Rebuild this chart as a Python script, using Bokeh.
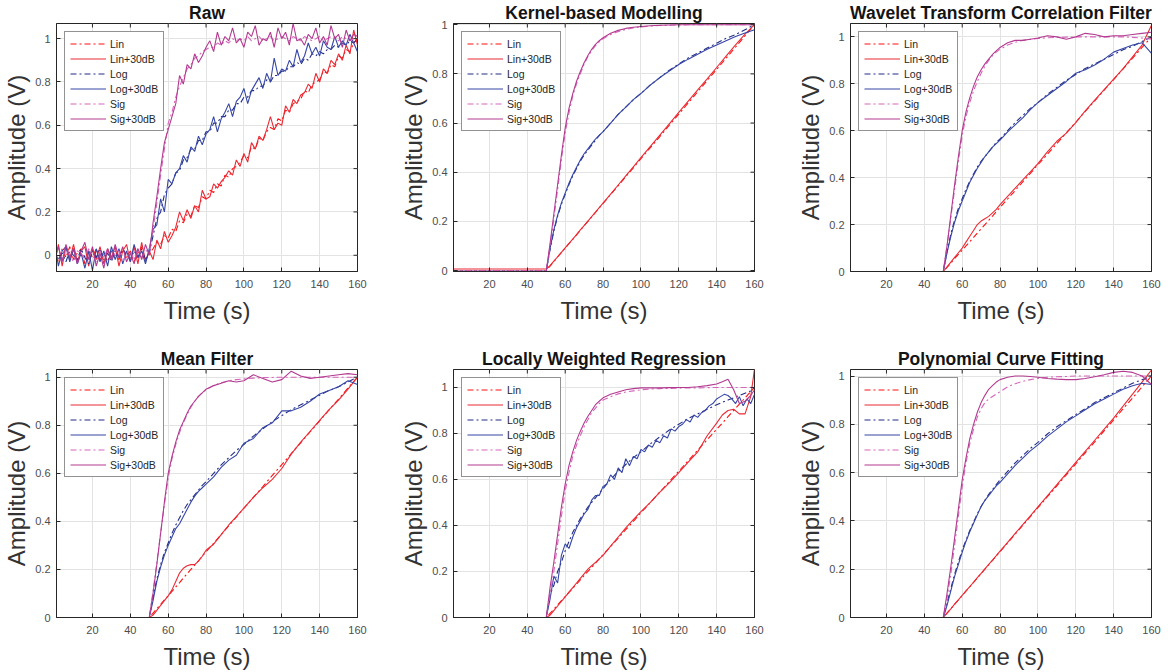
import math
from bokeh.plotting import figure
from bokeh.layouts import column, row
from bokeh.models import Range1d, FixedTicker, NumeralTickFormatter
from bokeh.embed import file_html
from bokeh.resources import INLINE

FONT = "Liberation Sans"

# ---------------- data ----------------
# Raw panel: 2 s sampling
t_raw = list(range(0, 161, 2))

raw_lin = [0.02, -0.03, 0.03, -0.01, 0.04, -0.02, 0.01, 0.03, -0.04, 0.02, -0.01, 0.03, -0.02,
           0.01, -0.03, 0.02, 0.0, -0.02, 0.03, -0.01, 0.02, -0.03, 0.01, 0.04, -0.02, 0.01] + \
          [0.03, 0.06, 0.05, 0.09, 0.08, 0.12, 0.11, 0.16, 0.15, 0.19,
           0.18, 0.23, 0.22, 0.27, 0.26, 0.30, 0.29, 0.33, 0.32, 0.37,
           0.36, 0.40, 0.41, 0.43, 0.46, 0.45, 0.50, 0.49, 0.54, 0.53,
           0.57, 0.59, 0.58, 0.63, 0.62, 0.67, 0.66, 0.70, 0.71, 0.72,
           0.76, 0.75, 0.79, 0.80, 0.81, 0.85, 0.84, 0.88, 0.87, 0.92,
           0.91, 0.95, 0.94, 0.98, 1.0]
raw_lin_n = [-0.04, 0.05, -0.05, 0.04, -0.02, 0.05, -0.03, 0.02, 0.04, -0.05, 0.03, -0.02, 0.04,
             -0.04, 0.03, -0.01, 0.04, -0.05, 0.02, 0.05, -0.03, 0.04, -0.04, 0.06, -0.03, 0.02] + \
            [-0.02, 0.07, 0.03, 0.11, 0.06, 0.09, 0.13, 0.20, 0.16, 0.21,
             0.17, 0.23, 0.20, 0.30, 0.26, 0.27, 0.33, 0.31, 0.34, 0.36,
             0.39, 0.37, 0.44, 0.41, 0.47, 0.43, 0.52, 0.49, 0.55, 0.53,
             0.58, 0.64, 0.58, 0.61, 0.60, 0.69, 0.66, 0.72, 0.70, 0.74,
             0.75, 0.79, 0.77, 0.84, 0.80, 0.86, 0.84, 0.90, 0.88, 0.93,
             0.90, 0.97, 0.93, 1.04, 0.97]
raw_log = [0.03, -0.02, 0.01, -0.03, 0.02, 0.0, -0.02, 0.03, -0.01, -0.04, 0.02, -0.01, 0.03,
           -0.02, 0.01, -0.03, 0.02, -0.01, 0.03, 0.0, -0.02, 0.02, -0.01, 0.03, -0.02, 0.01] + \
          [0.09, 0.17, 0.20, 0.28, 0.31, 0.33, 0.38, 0.39, 0.44, 0.45,
           0.49, 0.49, 0.53, 0.53, 0.57, 0.57, 0.61, 0.61, 0.64, 0.64,
           0.67, 0.67, 0.70, 0.70, 0.73, 0.73, 0.76, 0.76, 0.78, 0.78,
           0.81, 0.80, 0.83, 0.83, 0.85, 0.85, 0.87, 0.87, 0.89, 0.88,
           0.91, 0.90, 0.93, 0.92, 0.94, 0.93, 0.95, 0.95, 0.97, 0.96,
           0.98, 0.97, 0.99, 0.98, 1.0]
raw_log_n = [0.06, -0.05, 0.02, 0.04, -0.03, 0.03, -0.04, 0.01, -0.06, 0.02, -0.07, 0.03, -0.03,
             0.02, -0.05, 0.04, -0.02, 0.03, -0.04, 0.02, -0.03, 0.05, -0.01, 0.02, -0.04, 0.03] + \
            [0.12, 0.14, 0.26, 0.20, 0.35, 0.33, 0.38, 0.40, 0.46, 0.43,
             0.50, 0.48, 0.55, 0.51, 0.56, 0.58, 0.64, 0.57, 0.63, 0.66,
             0.70, 0.64, 0.71, 0.73, 0.77, 0.70, 0.76, 0.79, 0.82, 0.77,
             0.84, 0.80, 0.91, 0.83, 0.86, 0.85, 0.90, 0.87, 0.95, 0.89,
             0.92, 0.98, 0.93, 0.96, 0.92, 0.99, 0.96, 0.95, 1.01, 0.96,
             0.99, 0.97, 1.02, 0.98, 0.94]
raw_sig = [0.01, 0.03, -0.02, 0.02, 0.0, -0.03, 0.02, 0.01, -0.02, 0.03, 0.0, -0.03, 0.02,
           -0.01, 0.03, -0.02, 0.01, 0.02, -0.03, 0.01, 0.02, -0.02, 0.03, -0.01, 0.02, 0.02] + \
          [0.12, 0.24, 0.37, 0.49, 0.61, 0.66, 0.73, 0.78, 0.82, 0.86,
           0.88, 0.91, 0.92, 0.94, 0.95, 0.96, 0.96, 0.98, 0.97, 0.99,
           0.98, 1.0, 0.99, 1.0, 0.99, 1.01, 0.99, 1.0, 1.01, 0.99,
           1.0, 1.01, 0.99, 1.0, 1.01, 1.0, 0.99, 1.01, 1.0, 0.99,
           1.01, 1.0, 0.99, 1.0, 1.01, 0.99, 1.0, 1.01, 1.0, 0.99,
           1.01, 1.0, 0.99, 1.0, 1.0]
raw_sig_n = [-0.02, 0.04, -0.03, 0.05, -0.01, 0.03, -0.04, 0.02, 0.06, -0.02, 0.04, -0.05, 0.01,
             -0.06, 0.03, -0.02, 0.05, -0.01, 0.04, -0.03, 0.01, -0.04, 0.03, -0.02, 0.05, 0.0] + \
            [0.15, 0.27, 0.40, 0.52, 0.58, 0.64, 0.70, 0.83, 0.79, 0.88,
             0.86, 0.93, 0.89, 0.92, 0.96, 0.99, 0.94, 1.03, 0.97, 1.01,
             0.99, 1.05, 0.98, 1.0, 0.96, 1.03, 1.01, 1.06, 0.97, 1.0,
             0.99, 1.03, 0.96, 1.05, 1.0, 1.03, 0.97, 1.07, 0.99, 1.0,
             0.97, 1.02, 1.0, 1.05, 0.98, 1.01, 0.97, 1.06, 1.0, 1.02,
             0.96, 1.04, 0.99, 1.02, 1.01]

# Smooth panels: common sampling
t_s = [0, 50, 52, 54, 56, 58, 60, 62, 64, 66, 68, 70, 72, 74, 76, 78, 80, 84, 88, 92, 96,
       100, 105, 110, 115, 120, 125, 130, 135, 140, 145, 150, 155, 160]

lin_ref = [0, 0, 0.018, 0.036, 0.055, 0.073, 0.091, 0.109, 0.127, 0.145, 0.164, 0.182, 0.2, 0.218,
           0.236, 0.255, 0.273, 0.309, 0.345, 0.382, 0.418, 0.455, 0.5, 0.545, 0.591, 0.636,
           0.682, 0.727, 0.773, 0.818, 0.864, 0.909, 0.955, 1.0]
log_ref = [0, 0, 0.085, 0.16, 0.22, 0.27, 0.31, 0.35, 0.385, 0.415, 0.445, 0.47, 0.49, 0.51, 0.53,
           0.55, 0.565, 0.60, 0.635, 0.665, 0.695, 0.72, 0.755, 0.785, 0.815, 0.84, 0.865, 0.885,
           0.905, 0.925, 0.945, 0.96, 0.98, 1.0]
sig_ref = [0, 0, 0.11, 0.23, 0.35, 0.47, 0.58, 0.66, 0.72, 0.77, 0.81, 0.845, 0.875, 0.9, 0.92,
           0.935, 0.947, 0.965, 0.977, 0.985, 0.99, 0.993, 0.996, 0.998, 0.999, 1.0, 1.0, 1.0,
           1.0, 1.0, 1.0, 1.0, 1.0, 1.0]

# Kernel-based Modelling
ker_lin_n = [0.006, 0.006, 0.02, 0.038, 0.056, 0.074, 0.092, 0.11, 0.128, 0.146, 0.165, 0.183,
             0.201, 0.219, 0.238, 0.256, 0.274, 0.311, 0.348, 0.385, 0.422, 0.459, 0.505, 0.551,
             0.597, 0.643, 0.689, 0.735, 0.78, 0.826, 0.872, 0.918, 0.962, 1.0]
ker_log_n = [-0.003, -0.003, 0.09, 0.165, 0.225, 0.275, 0.315, 0.355, 0.39, 0.42, 0.45, 0.475,
             0.495, 0.515, 0.535, 0.55, 0.565, 0.6, 0.635, 0.665, 0.695, 0.72, 0.755, 0.785,
             0.812, 0.838, 0.86, 0.88, 0.9, 0.918, 0.935, 0.952, 0.966, 0.98]
ker_sig = [0, 0, 0.1, 0.21, 0.33, 0.45, 0.56, 0.64, 0.71, 0.76, 0.8, 0.84, 0.87, 0.895, 0.915,
           0.93, 0.943, 0.96, 0.972, 0.981, 0.987, 0.991, 0.995, 0.997, 0.998, 0.999, 1.0, 1.0,
           1.0, 1.0, 1.0, 1.0, 1.0, 1.0]
ker_sig_n = [-0.003, -0.003, 0.11, 0.23, 0.35, 0.47, 0.58, 0.66, 0.72, 0.77, 0.81, 0.845, 0.875,
             0.9, 0.92, 0.935, 0.947, 0.965, 0.977, 0.985, 0.99, 0.993, 0.996, 0.998, 0.999, 1.0,
             1.0, 1.0, 1.0, 1.0, 1.0, 1.0, 1.0, 1.0]

# Wavelet Transform Correlation Filter
wav_lin_n = [0, 0, 0.02, 0.04, 0.06, 0.08, 0.1, 0.125, 0.15, 0.175, 0.2, 0.215, 0.225, 0.235,
             0.25, 0.265, 0.285, 0.32, 0.355, 0.39, 0.425, 0.46, 0.51, 0.555, 0.59, 0.635, 0.685,
             0.73, 0.775, 0.82, 0.865, 0.915, 0.965, 1.05]
wav_log_n = [0, 0, 0.08, 0.15, 0.21, 0.26, 0.3, 0.34, 0.38, 0.41, 0.44, 0.465, 0.49, 0.51, 0.53,
             0.545, 0.56, 0.595, 0.625, 0.655, 0.69, 0.72, 0.75, 0.78, 0.81, 0.845, 0.86, 0.88,
             0.905, 0.935, 0.95, 0.965, 0.975, 0.93]
wav_sig = [0, 0, 0.11, 0.23, 0.35, 0.47, 0.58, 0.66, 0.72, 0.77, 0.81, 0.845, 0.875, 0.9, 0.92,
           0.935, 0.947, 0.965, 0.977, 0.985, 0.99, 0.993, 0.996, 0.998, 0.999, 1.0, 1.0, 1.0,
           1.0, 1.0, 1.0, 0.998, 0.995, 0.99]
wav_sig_n = [0, 0, 0.11, 0.24, 0.37, 0.49, 0.6, 0.68, 0.74, 0.79, 0.83, 0.86, 0.885, 0.905,
             0.925, 0.94, 0.955, 0.975, 0.985, 0.985, 0.99, 0.995, 1.005, 1.0, 0.99, 1.0, 1.015,
             1.01, 1.0, 1.005, 1.005, 1.01, 1.015, 1.02]

# Mean Filter
mean_lin_n = [0, 0, 0.01, 0.03, 0.05, 0.07, 0.09, 0.115, 0.15, 0.185, 0.205, 0.215, 0.22, 0.22,
              0.235, 0.255, 0.28, 0.305, 0.345, 0.385, 0.42, 0.455, 0.5, 0.54, 0.575, 0.62,
              0.68, 0.73, 0.775, 0.82, 0.865, 0.905, 0.95, 1.0]
mean_log_n = [0, 0, 0.07, 0.15, 0.21, 0.26, 0.3, 0.335, 0.37, 0.39, 0.42, 0.45, 0.48, 0.505,
              0.525, 0.54, 0.555, 0.585, 0.625, 0.655, 0.675, 0.725, 0.745, 0.79, 0.81, 0.86,
              0.86, 0.875, 0.9, 0.93, 0.945, 0.96, 0.985, 0.97]
mean_sig_n = [0, 0, 0.1, 0.22, 0.35, 0.48, 0.6, 0.67, 0.73, 0.78, 0.815, 0.85, 0.88, 0.9, 0.92,
              0.935, 0.95, 0.965, 0.975, 0.985, 0.98, 0.985, 1.01, 0.995, 0.98, 0.99, 1.025,
              1.005, 0.995, 1.0, 1.005, 1.01, 1.015, 1.01]

# Locally Weighted Regression
t_lwr = [0, 50, 52, 54, 56, 58, 60, 62, 64, 66, 68, 70, 72, 74, 76, 78, 80, 84, 88, 92, 96,
         100, 105, 110, 115, 120, 125, 130, 135, 140, 143, 146, 149, 152, 155, 158, 160]
lwr_lin = [0, 0, 0.018, 0.036, 0.055, 0.073, 0.091, 0.109, 0.127, 0.145, 0.164, 0.182, 0.2,
           0.218, 0.236, 0.255, 0.273, 0.309, 0.345, 0.382, 0.418, 0.455, 0.5, 0.545, 0.591,
           0.636, 0.682, 0.727, 0.773, 0.818, 0.845, 0.873, 0.9, 0.927, 0.955, 0.982, 1.0]
lwr_lin_n = [0, 0, 0.01, 0.03, 0.05, 0.07, 0.09, 0.11, 0.13, 0.15, 0.17, 0.19, 0.21, 0.225,
             0.24, 0.255, 0.27, 0.31, 0.35, 0.39, 0.425, 0.46, 0.5, 0.545, 0.585, 0.63, 0.675,
             0.72, 0.79, 0.845, 0.88, 0.9, 0.905, 0.885, 0.885, 0.96, 1.08]
lwr_log = [0, 0, 0.1, 0.14, 0.2, 0.24, 0.29, 0.33, 0.37, 0.4, 0.43, 0.455, 0.48, 0.5, 0.52,
           0.54, 0.56, 0.6, 0.635, 0.665, 0.695, 0.72, 0.755, 0.785, 0.815, 0.84, 0.865, 0.885,
           0.905, 0.925, 0.935, 0.945, 0.955, 0.965, 0.975, 0.985, 1.0]
lwr_sig = [0, 0, 0.1, 0.2, 0.32, 0.44, 0.55, 0.63, 0.7, 0.75, 0.79, 0.83, 0.86, 0.89, 0.91,
           0.93, 0.945, 0.96, 0.972, 0.98, 0.985, 0.99, 0.993, 0.995, 0.996, 0.997, 0.998,
           0.998, 0.999, 1.0, 1.0, 1.0, 1.0, 1.0, 1.0, 1.0, 1.0]
lwr_sig_n = [0, 0, 0.13, 0.24, 0.36, 0.48, 0.58, 0.66, 0.72, 0.77, 0.81, 0.845, 0.875, 0.9,
             0.925, 0.94, 0.955, 0.97, 0.98, 0.99, 0.995, 0.998, 0.998, 0.998, 0.999, 1.0, 1.0,
             1.003, 1.008, 1.015, 1.025, 1.036, 0.99, 0.93, 0.94, 0.965, 0.99]
t_lwr_n = [0, 50] + list(range(52, 161, 2))
lwr_log_n = [0, 0] + \
            [0.08, 0.18, 0.15, 0.27, 0.32, 0.30, 0.35, 0.39, 0.42, 0.45,
             0.47, 0.51, 0.53, 0.53, 0.57, 0.58, 0.62, 0.60, 0.65, 0.63,
             0.69, 0.66, 0.70, 0.69, 0.73, 0.72, 0.75, 0.74, 0.77, 0.76,
             0.79, 0.78, 0.82, 0.81, 0.83, 0.84, 0.86, 0.85, 0.88, 0.87,
             0.89, 0.90, 0.92, 0.93, 0.95, 0.96, 0.97, 0.965, 0.95, 0.93,
             0.96, 0.92, 0.95, 0.93, 0.97]

# Polynomial Curve Fitting
poly_lin_n = [0, 0, 0.018, 0.036, 0.055, 0.073, 0.092, 0.11, 0.128, 0.146, 0.165, 0.183, 0.201,
              0.22, 0.238, 0.256, 0.275, 0.311, 0.348, 0.385, 0.421, 0.458, 0.504, 0.55, 0.596,
              0.642, 0.688, 0.734, 0.78, 0.826, 0.875, 0.925, 0.975, 1.025]
poly_log = [0, 0, 0.06, 0.12, 0.18, 0.23, 0.28, 0.32, 0.36, 0.395, 0.43, 0.46, 0.485, 0.51,
            0.53, 0.55, 0.57, 0.605, 0.64, 0.67, 0.7, 0.725, 0.76, 0.79, 0.815, 0.84, 0.865,
            0.89, 0.91, 0.93, 0.95, 0.97, 0.985, 1.0]
poly_log_n = [0, 0, 0.05, 0.11, 0.17, 0.22, 0.27, 0.315, 0.355, 0.39, 0.425, 0.46, 0.485, 0.505,
              0.525, 0.545, 0.56, 0.595, 0.63, 0.66, 0.69, 0.715, 0.75, 0.78, 0.81, 0.835, 0.86,
              0.885, 0.905, 0.925, 0.945, 0.96, 0.97, 0.965]
poly_sig = [0, 0, 0.08, 0.18, 0.3, 0.42, 0.54, 0.64, 0.72, 0.78, 0.83, 0.865, 0.89, 0.905,
            0.915, 0.925, 0.935, 0.955, 0.968, 0.978, 0.985, 0.99, 0.995, 0.997, 0.998, 1.0,
            1.0, 1.0, 1.0, 1.0, 1.0, 1.0, 1.0, 1.0]
poly_sig_n = [0, 0, 0.1, 0.21, 0.33, 0.45, 0.57, 0.66, 0.74, 0.8, 0.85, 0.89, 0.92, 0.945,
              0.96, 0.975, 0.985, 0.995, 1.0, 1.0, 0.998, 0.995, 0.99, 0.987, 0.985, 0.985,
              0.99, 0.997, 1.005, 1.015, 1.02, 1.015, 1.0, 0.965]

x_ticks = [20, 40, 60, 80, 100, 120, 140, 160]
y_ticks = [0, 0.2, 0.4, 0.6, 0.8, 1.0]
labels = ["Lin", "Lin+30dB", "Log", "Log+30dB", "Sig", "Sig+30dB"]
colors = ["#ff1010", "#ea2a35", "#232d86", "#3646a6", "#d566bb", "#b23a90"]
dashes = ["6 3 2 3", "solid", "6 3 2 3", "solid", "6 3 2 3", "solid"]

AX = "#262626"
TICK = "#4d4d4d"
X_LO, X_HI = 1, 160


def make_panel(title, ylo, yhi, series, left, right, top, bottom):
    p = figure(frame_width=301, frame_height=248, x_range=Range1d(X_LO, X_HI),
               y_range=Range1d(ylo, yhi), output_backend="svg", toolbar_location=None,
               min_border_left=left, min_border_right=right, min_border_top=top,
               min_border_bottom=bottom, background_fill_color="white",
               border_fill_color="white", outline_line_color=AX, outline_line_width=1)
    p.title.text = title
    p.title.text_font = FONT
    p.title.text_font_size = "17.5px"
    p.title.text_font_style = "bold"
    p.title.text_color = "#141414"
    p.title.align = "center"
    p.title.standoff = 1
    p.title.offset = 0
    for (xs, ys), lab, col, dsh in zip(series, labels, colors, dashes):
        p.line(xs, ys, line_color=col, line_width=1.1, line_dash=dsh, legend_label=lab)

    for ax in p.xaxis + p.yaxis:
        ax.axis_line_color = AX
        ax.major_tick_line_color = AX
        ax.major_tick_in = 4
        ax.major_tick_out = 0
        ax.minor_tick_line_color = None
        ax.major_label_text_font = FONT
        ax.major_label_text_font_size = "11px"
        ax.major_label_text_color = TICK
        ax.axis_label_text_font = FONT
        ax.axis_label_text_font_size = "24px"
        ax.axis_label_text_font_style = "normal"
        ax.axis_label_text_color = "#333333"
    p.xaxis.ticker = FixedTicker(ticks=x_ticks)
    p.yaxis.ticker = FixedTicker(ticks=y_ticks)
    p.yaxis.formatter = NumeralTickFormatter(format="0.[0]")
    p.xaxis.axis_label = "Time (s)"
    p.yaxis.axis_label = "Amplitude (V)"
    p.xaxis.major_label_standoff = 8
    p.yaxis.major_label_standoff = 6
    p.xaxis.axis_label_standoff = 6
    p.yaxis.axis_label_standoff = 2
    p.xgrid.ticker = FixedTicker(ticks=x_ticks)
    p.ygrid.ticker = FixedTicker(ticks=y_ticks)
    p.grid.grid_line_color = "#e3e3e3"
    p.grid.grid_line_width = 1

    # box ticks on the right and top edges (clipped to the frame, so only the inner half shows)
    p.scatter([X_HI] * len(y_ticks), y_ticks, marker="dash", size=8, line_color=AX,
              line_width=1)
    p.scatter(x_ticks, [yhi] * len(x_ticks), marker="dash", size=8, angle=math.pi / 2,
              line_color=AX, line_width=1)

    lg = p.legend[0]
    lg.location = "top_left"
    lg.margin = 8
    lg.padding = 5
    lg.spacing = 2
    lg.glyph_width = 36
    lg.glyph_height = 13
    lg.label_height = 13
    lg.label_standoff = 4
    lg.label_text_font = FONT
    lg.label_text_font_size = "10.5px"
    lg.label_text_color = "#262626"
    lg.border_line_color = AX
    lg.border_line_width = 1
    lg.background_fill_color = "white"
    lg.background_fill_alpha = 1.0
    return p


p1 = make_panel("Raw", -0.075, 1.07,
                [(t_raw, raw_lin), (t_raw, raw_lin_n), (t_raw, raw_log), (t_raw, raw_log_n),
                 (t_raw, raw_sig), (t_raw, raw_sig_n)], 50, 40, 23, 50)
p2 = make_panel("Kernel-based Modelling", -0.004, 1.005,
                [(t_s, lin_ref), (t_s, ker_lin_n), (t_s, log_ref), (t_s, ker_log_n),
                 (t_s, ker_sig), (t_s, ker_sig_n)], 50, 40, 23, 50)
p3 = make_panel("Wavelet Transform Correlation Filter", 0, 1.057,
                [(t_s, lin_ref), (t_s, wav_lin_n), (t_s, log_ref), (t_s, wav_log_n),
                 (t_s, wav_sig), (t_s, wav_sig_n)], 50, 18, 23, 50)
p4 = make_panel("Mean Filter", 0, 1.032,
                [(t_s, lin_ref), (t_s, mean_lin_n), (t_s, log_ref), (t_s, mean_log_n),
                 (t_s, sig_ref), (t_s, mean_sig_n)], 50, 40, 43, 48)
p5 = make_panel("Locally Weighted Regression", 0, 1.078,
                [(t_lwr, lwr_lin), (t_lwr, lwr_lin_n), (t_lwr, lwr_log), (t_lwr_n, lwr_log_n),
                 (t_lwr, lwr_sig), (t_lwr, lwr_sig_n)], 50, 40, 43, 48)
p6 = make_panel("Polynomial Curve Fitting", 0, 1.027,
                [(t_s, lin_ref), (t_s, poly_lin_n), (t_s, poly_log), (t_s, poly_log_n),
                 (t_s, poly_sig), (t_s, poly_sig_n)], 50, 18, 43, 48)

layout = column(row(p1, p2, p3), row(p4, p5, p6))
open("out.html", "w").write(file_html(layout, INLINE))
